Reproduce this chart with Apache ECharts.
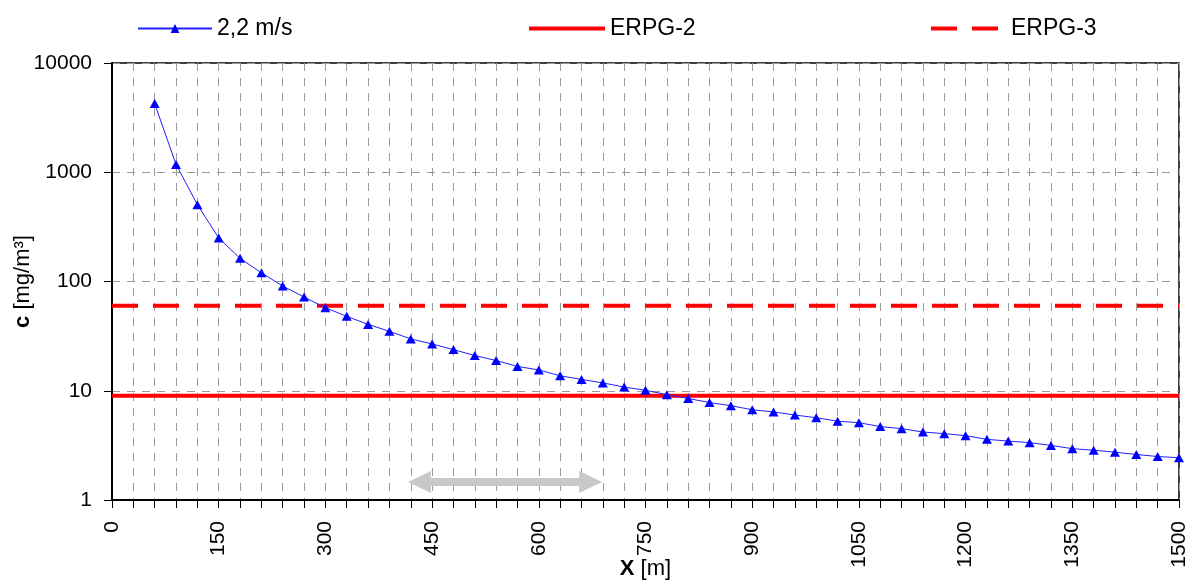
<!DOCTYPE html>
<html>
<head>
<meta charset="utf-8">
<script src="https://cdn.jsdelivr.net/npm/echarts@6/dist/echarts.min.js"></script>
<style>
html,body{margin:0;padding:0;background:#fff;}
#c{width:1189px;height:581px;}
</style>
</head>
<body>
<div id="c"></div>
<script>
// distances [m]
var distX = [60, 90, 120, 150, 180, 210, 240, 270, 300, 330, 360, 390, 420, 450, 480, 510, 540, 570, 600, 630,
  660, 690, 720, 750, 780, 810, 840, 870, 900, 930, 960, 990, 1020, 1050, 1080, 1110, 1140, 1170, 1200, 1230,
  1260, 1290, 1320, 1350, 1380, 1410, 1440, 1470, 1500];
// concentration [mg/m3] at 2,2 m/s
var conc22 = [4250, 1180, 505, 250, 163, 120, 91, 72, 57.5, 48, 40.5, 35, 29.8, 26.8, 23.8, 21, 18.9, 16.7, 15.5, 13.7,
  12.7, 11.8, 10.8, 10.1, 9.2, 8.5, 7.8, 7.3, 6.7, 6.4, 6.0, 5.66, 5.27, 5.1, 4.7, 4.5, 4.19, 4.05, 3.88, 3.59,
  3.46, 3.35, 3.16, 2.95, 2.86, 2.74, 2.61, 2.5, 2.44];
var erpg2 = 9;
var erpg3 = 60;
var xRange = [0, 1500];
var arrowSpan = [416, 689];
var arrowLevel = 1.46;

var seriesData = distX.map(function (x, i) { return [x, conc22[i]]; });

var chart = echarts.init(document.getElementById('c'), null, {renderer: 'canvas'});
var FONT = 'Liberation Sans, Arial, sans-serif';
var legText = {fontSize: 23, color: '#000', fontFamily: FONT};

var option = {
  animation: false,
  backgroundColor: '#fff',
  textStyle: {fontFamily: FONT, color: '#000'},
  grid: {left: 112, right: 10, top: 63, bottom: 81, outerBoundsMode: 'none', containLabel: false,
    show: true, borderColor: '#000', borderWidth: 1.5, backgroundColor: 'transparent'},
  legend: [
    {data: ['2,2 m/s'], left: 137, top: 17, padding: 0, itemWidth: 74, itemHeight: 11, textStyle: legText},
    {data: [{name: 'ERPG-2', icon: 'rect'}], left: 529, top: 17, padding: 0, itemWidth: 76, itemHeight: 4,
      textStyle: legText},
    {data: [{name: 'ERPG-3', icon: 'path://M0,0h26v4h-26z M41,0h26v4h-26z'}], left: 931, top: 17, padding: 0, itemWidth: 67, itemHeight: 4,
      textStyle: {fontSize: 23, color: '#000', fontFamily: FONT, padding: [0, 0, 0, 8]}}
  ],
  xAxis: {
    type: 'value', min: xRange[0], max: xRange[1], interval: 30,
    name: '{b|X} [m]', nameLocation: 'middle', nameGap: 58, nameMoveOverlap: false,
    nameTextStyle: {fontSize: 22, color: '#000', rich: {b: {fontWeight: 'bold', fontSize: 22, color: '#000'}}},
    axisLine: {lineStyle: {color: '#000', width: 2}},
    axisTick: {show: true, inside: false, length: 8, lineStyle: {color: '#000', width: 1}},
    axisLabel: {rotate: 90, margin: 21, fontSize: 21, color: '#000', showMinLabel: true, showMaxLabel: true,
      formatter: function (v) { return (Math.round(v) % 150 === 0) ? String(Math.round(v)) : ''; }},
    splitLine: {show: true, lineStyle: {color: '#9a9a9a', width: 1, type: [8, 7]}}
  },
  yAxis: {
    type: 'log', logBase: 10, min: 1, max: 10000,
    name: '{b|c} [mg/m³]', nameLocation: 'middle', nameGap: 78, nameRotate: 90, nameMoveOverlap: false,
    nameTextStyle: {fontSize: 22, color: '#000', rich: {b: {fontWeight: 'bold', fontSize: 22, color: '#000'}}},
    axisLine: {show: true, lineStyle: {color: '#000', width: 2}},
    axisTick: {show: true, inside: false, length: 8, lineStyle: {color: '#000', width: 1}},
    axisLabel: {margin: 20, fontSize: 21, color: '#000', formatter: function (v) { return String(Math.round(v)); }},
    splitLine: {show: true, lineStyle: {color: '#9a9a9a', width: 1, type: [8, 7]}},
    minorTick: {show: false}
  },
  series: [
    {
      name: '2,2 m/s', type: 'line', data: seriesData,
      symbol: 'triangle', symbolSize: [10, 9],
      itemStyle: {color: '#0000ff'},
      lineStyle: {color: '#2020ff', width: 1},
      z: 5
    },
    {
      name: 'ERPG-2', type: 'line', data: [[xRange[0], erpg2], [xRange[1], erpg2]],
      symbol: 'none', itemStyle: {color: '#ff0000'},
      lineStyle: {color: '#ff0000', width: 4}, z: 4
    },
    {
      name: 'ERPG-3', type: 'line', data: [[xRange[0], erpg3], [xRange[1], erpg3]],
      symbol: 'none', itemStyle: {color: '#ff0000'},
      lineStyle: {color: '#ff0000', width: 4, type: [26, 15]}, z: 4
    },
    {
      name: 'arrow', type: 'custom', silent: true, z: 3,
      data: [[arrowSpan[0], arrowSpan[1], arrowLevel]],
      renderItem: function (params, api) {
        var a = api.coord([api.value(0), api.value(2)]);
        var b = api.coord([api.value(1), api.value(2)]);
        var hl = 23, hh = 11, sh = 4;
        var pts = [
          [a[0], a[1]],
          [a[0] + hl, a[1] - hh],
          [a[0] + hl, a[1] - sh],
          [b[0] - hl, b[1] - sh],
          [b[0] - hl, b[1] - hh],
          [b[0], b[1]],
          [b[0] - hl, b[1] + hh],
          [b[0] - hl, b[1] + sh],
          [a[0] + hl, a[1] + sh],
          [a[0] + hl, a[1] + hh]
        ];
        return {type: 'polygon', shape: {points: pts}, style: {fill: '#c8c8c8', stroke: null}};
      }
    }
  ]
};
chart.setOption(option);
</script>
</body>
</html>
